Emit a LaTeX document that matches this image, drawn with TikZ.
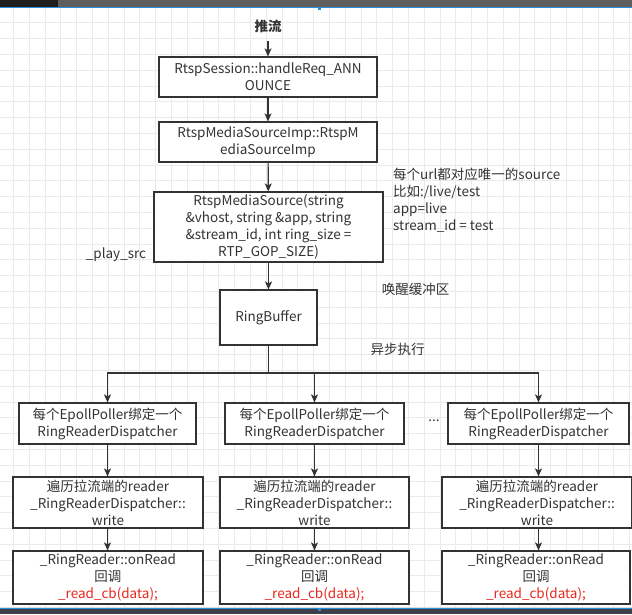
\documentclass[tikz,border=0pt]{standalone}
\usepackage{fontspec}
\setmainfont{Noto Sans CJK SC}
\usetikzlibrary{arrows.meta}
\definecolor{txt}{HTML}{333333}
\definecolor{edge}{HTML}{333333}
\definecolor{gridc}{HTML}{EAEAEA}
\definecolor{gridm}{HTML}{DEDEDE}
\definecolor{redtxt}{HTML}{E8281E}
\definecolor{topbar}{HTML}{5E5E5E}
\definecolor{botbar}{HTML}{3C4048}
\definecolor{bluel}{HTML}{2A8FD8}
\tikzset{
  box/.style={draw=edge, line width=1.2pt, fill=white, rectangle, align=center, inner sep=0pt,
    text=txt, font=\fontsize{13.5}{17}\selectfont},
  lbl/.style={text=txt, font=\fontsize{13.5}{17}\selectfont, inner sep=0pt},
  arr/.style={draw=edge, line width=1.2pt, -{Stealth[length=8pt,width=7pt,inset=2pt]}},
  ln/.style={draw=edge, line width=1.2pt},
}
\begin{document}
\begin{tikzpicture}[x=1pt,y=-1pt]
\useasboundingbox (0,0) rectangle (632,614);
% background grid
\fill[white] (0,0) rectangle (632,614);
\foreach \i in {0,...,39} {
  \pgfmathsetmacro{\xx}{13.3+15.8*\i}
  \draw[gridc, line width=0.8pt] (\xx,0) -- (\xx,614);
}
\foreach \i in {-1,...,38} {
  \pgfmathsetmacro{\yy}{22.7+15.8*\i}
  \draw[gridc, line width=0.8pt] (0,\yy) -- (632,\yy);
}
% top / bottom bars
\fill[topbar] (0,0) rectangle (632,7);
\fill[black!88] (0,0) rectangle (58,7);
\fill[bluel] (0,7) rectangle (632,8.3);
\fill[bluel] (317.5,6.5) rectangle (320.5,9.5);
\fill[gridm] (0,606.5) rectangle (632,607.8);
\fill[bluel] (0,607.8) rectangle (632,609.2);
\fill[botbar] (0,609.2) rectangle (632,614);
\fill[bluel] (317.5,607.5) rectangle (320.5,610.5);

% title
\node[lbl, font=\fontsize{13.5}{17}\selectfont\bfseries, minimum height=30pt] (title) at (268,26) {推流};

% main chain
\node[box, minimum width=218pt, minimum height=40pt] (b1) at (268,77) {RtspSession::handleReq\_ANN\\OUNCE};
\node[box, minimum width=218pt, minimum height=40pt] (b2) at (268,142) {RtspMediaSourceImp::RtspM\\ediaSourceImp};
\node[box, minimum width=229pt, minimum height=70pt] (b3) at (268.5,227) {RtspMediaSource(string\\\&vhost, string \&app, string\\\&stream\_id, int ring\_size =\\RTP\_GOP\_SIZE)};
\node[box, minimum width=97pt, minimum height=55pt] (rb) at (268.5,317.5) {RingBuffer};

% labels
\node[lbl, anchor=north west, align=left] (note) at (393,168) {每个url都对应唯一的source\\比如:/live/test\\app=live\\stream\_id = test};
\node[lbl] (play) at (116,255) {\_play\_src};
\node[lbl] (wake) at (415.5,289) {唤醒缓冲区};
\node[lbl] (async) at (397.5,349) {异步执行};
\node[lbl] (dots) at (434,421) {...};

% row A
\node[box, minimum width=177pt, minimum height=41pt] (a1) at (107.5,423.5) {每个EpollPoller绑定一个\\RingReaderDispatcher};
\node[box, minimum width=179pt, minimum height=41pt] (a2) at (314.5,423.5) {每个EpollPoller绑定一个\\RingReaderDispatcher};
\node[box, minimum width=181pt, minimum height=41pt] (a3) at (538.5,423.5) {每个EpollPoller绑定一个\\RingReaderDispatcher};
% row B
\node[box, minimum width=190pt, minimum height=51pt] (w1) at (108,502.5) {遍历拉流端的reader\\\_RingReaderDispatcher::\\write};
\node[box, minimum width=189pt, minimum height=51pt] (w2) at (314.5,502.5) {遍历拉流端的reader\\\_RingReaderDispatcher::\\write};
\node[box, minimum width=190pt, minimum height=51pt] (w3) at (537,502.5) {遍历拉流端的reader\\\_RingReaderDispatcher::\\write};
% row C
\node[box, minimum width=190pt, minimum height=53pt] (r1) at (108,577.5) {\_RingReader::onRead\\回调\\\textcolor{redtxt}{\_read\_cb(data);}};
\node[box, minimum width=189pt, minimum height=53pt] (r2) at (314.5,577.5) {\_RingReader::onRead\\回调\\\textcolor{redtxt}{\_read\_cb(data);}};
\node[box, minimum width=188pt, minimum height=53pt] (r3) at (536,577.5) {\_RingReader::onRead\\回调\\\textcolor{redtxt}{\_read\_cb(data);}};

% connectors
\draw[arr] (title.south) -- (b1.north);
\draw[arr] (b1) -- (b2);
\draw[arr] (b2) -- (b3);
\draw[arr] (b3) -- (rb);
\coordinate (split) at (268.5,373);
\draw[ln] (rb.south) -- (split);
\draw[arr] (split) -| (a1.north);
\draw[arr] (split) -| (a2.north);
\draw[arr] (split) -| (a3.north);
\draw[arr] (a1.south) -- (a1.south |- w1.north);
\draw[arr] (a2.south) -- (a2.south |- w2.north);
\draw[arr] (a3.south) -- (a3.south |- w3.north);
\draw[arr] (a1.south |- w1.south) -- (a1.south |- r1.north);
\draw[arr] (a2.south |- w2.south) -- (a2.south |- r2.north);
\draw[arr] (a3.south |- w3.south) -- (a3.south |- r3.north);
\end{tikzpicture}
\end{document}
